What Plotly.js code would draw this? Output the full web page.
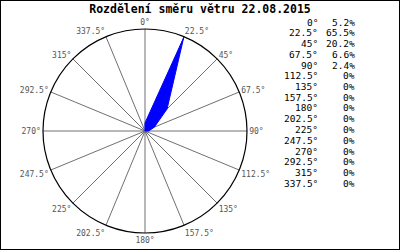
<!DOCTYPE html>
<html>
<head>
<meta charset="utf-8">
<script src="https://cdn.plot.ly/plotly-3.0.1.min.js"></script>
<style>
html,body{margin:0;padding:0;background:#fff;}
#wrap{width:400px;height:250px;box-sizing:border-box;border:1px solid #000;overflow:hidden;}
#plot{width:398px;height:248px;}
</style>
</head>
<body>
<div id="wrap"><div id="plot"></div></div>
<script>
const directions = [0, 22.5, 45, 67.5, 90, 112.5, 135, 157.5, 180, 202.5, 225, 247.5, 270, 292.5, 315, 337.5];
const percents = [5.2, 65.5, 20.2, 6.6, 2.4, 0, 0, 0, 0, 0, 0, 0, 0, 0, 0, 0];
const dirLabels = directions.map(d => d + '°');
const pctLabels = percents.map(p => p + '%');
const titleText = 'Rozdělení směru větru 22.08.2015';

const W = 398, H = 248;
const cx = 144, cy = 130, R = 102;

const mono = 'DejaVu Sans Mono, Liberation Mono, monospace';

const annotations = [];
directions.forEach((d, i) => {
  const ypx = 21 + i * 10.75;
  annotations.push({
    xref: 'paper', yref: 'paper', x: 319 / W, y: 1 - ypx / H,
    xanchor: 'right', yanchor: 'middle', showarrow: false,
    text: dirLabels[i], font: {family: mono, size: 9.5, color: '#000'}
  });
  annotations.push({
    xref: 'paper', yref: 'paper', x: 356 / W, y: 1 - ypx / H,
    xanchor: 'right', yanchor: 'middle', showarrow: false,
    text: pctLabels[i], font: {family: mono, size: 9.5, color: '#000'}
  });
});

const trace = {
  type: 'scatterpolar',
  r: percents.concat([percents[0]]),
  theta: directions.concat([directions[0]]),
  mode: 'lines',
  fill: 'toself',
  fillcolor: '#0000ff',
  line: {color: '#0000ff', width: 1},
  hoverinfo: 'skip'
};

const layout = {
  width: W, height: H,
  margin: {l: 0, r: 0, t: 0, b: 0},
  paper_bgcolor: '#fff',
  showlegend: false,
  title: {
    text: titleText,
    font: {family: mono, size: 11.5, color: '#000', weight: 'bold'},
    x: 0.5, xref: 'container', xanchor: 'center',
    y: 1 - 8 / H, yref: 'container', yanchor: 'middle'
  },
  polar: {
    domain: {x: [(cx - R) / W, (cx + R) / W], y: [(H - cy - R) / H, (H - cy + R) / H]},
    bgcolor: '#fff',
    radialaxis: {visible: false, range: [0, 66], showgrid: false},
    angularaxis: {
      rotation: 90, direction: 'clockwise',
      tickmode: 'array', tickvals: directions, ticktext: dirLabels,
      ticks: '', showline: true, linecolor: '#000', linewidth: 1.2,
      showgrid: true, gridcolor: '#707070', gridwidth: 1,
      tickfont: {family: mono, size: 8, color: '#555'}
    }
  },
  annotations: annotations
};

Plotly.newPlot('plot', [trace], layout, {staticPlot: true, displayModeBar: false});
</script>
</body>
</html>
